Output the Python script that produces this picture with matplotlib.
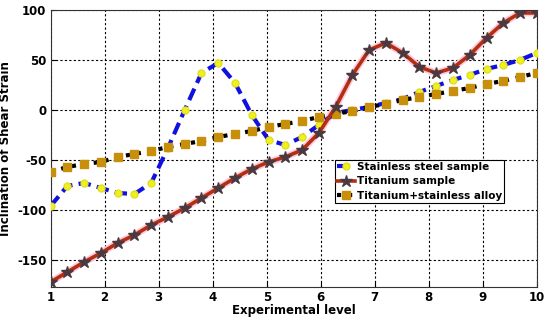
import numpy as np
import matplotlib.pyplot as plt

# experimental levels (30 samples between 1 and 10)
levels = np.linspace(1, 10, 30)

stainless = [-96, -76, -73, -78, -83, -84, -73, -38, 0, 37,
             47, 27, -5, -30, -35, -27, -15, -3, 0, 3,
             7, 11, 18, 24, 30, 35, 41, 45, 50, 57]
titanium = [-172, -162, -152, -143, -133, -125, -115, -107, -98, -88,
            -78, -68, -59, -52, -47, -40, -23, 3, 35, 60,
            67, 57, 43, 37, 42, 55, 72, 87, 97, 97]
alloy = [-62, -57, -54, -52, -47, -44, -41, -37, -34, -31,
         -27, -24, -21, -17, -14, -11, -7, -4, -1, 3,
         6, 10, 13, 16, 19, 22, 26, 29, 33, 37]

x_ticks = [1, 2, 3, 4, 5, 6, 7, 8, 9, 10]
y_ticks = [-150, -100, -50, 0, 50, 100]

plt.rcParams['axes.unicode_minus'] = False

fig = plt.figure(figsize=(5.5, 3.2), dpi=100)
ax = fig.add_axes([0.092, 0.103, 0.884, 0.866])

ax.plot(levels, stainless, color='#1010e0', linestyle=(0, (3, 1.5)), linewidth=3,
        marker='o', markersize=5, markerfacecolor='#f0f020',
        markeredgecolor='#e0e020', label='Stainless steel sample', zorder=3)
# titanium line with a pink halo
ax.plot(levels, titanium, color='#ffc8e0', linewidth=5, zorder=2)
ax.plot(levels, titanium, color='#b03010', linewidth=2.6,
        marker='*', markersize=9, markerfacecolor='#4a3a40',
        markeredgecolor='#4a3a40', label='Titanium sample', zorder=4)
ax.plot(levels, alloy, color='black', linestyle=':', linewidth=3,
        marker='s', markersize=5.5, markerfacecolor='#c8900a',
        markeredgecolor='#c8900a', label='Titanium+stainless alloy', zorder=3)

ax.set_xlim(1, 10)
ax.set_ylim(-177, 100)
ax.set_xticks(x_ticks)
ax.set_yticks(y_ticks)
ax.grid(True, color='black', linestyle=(0, (2, 2)), linewidth=0.8)
ax.tick_params(direction='in', labelsize=8.5, pad=3)
for lbl in ax.get_xticklabels() + ax.get_yticklabels():
    lbl.set_fontweight('bold')
for sp in ax.spines.values():
    sp.set_color('#333333')

ax.set_xlabel('Experimental level', fontsize=8.5, fontweight='bold', labelpad=0)
ax.set_ylabel('Inclination of Shear Strain', fontsize=8.5, fontweight='bold', labelpad=4)

leg = ax.legend(loc='upper left', bbox_to_anchor=(0.585, 0.46),
                prop={'weight': 'bold', 'size': 7.5}, frameon=True, fancybox=False,
                edgecolor='black', framealpha=1, borderpad=0.2, labelspacing=0.45,
                handlelength=1.7, handletextpad=0.2, borderaxespad=0)
leg.get_frame().set_linewidth(0.8)

plt.savefig('out.png', dpi=100)
